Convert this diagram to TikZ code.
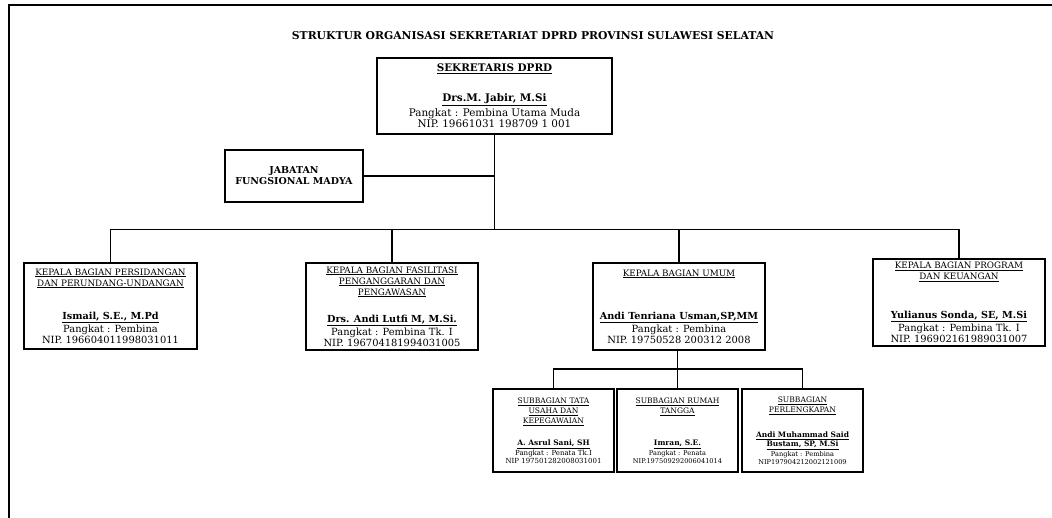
\documentclass[tikz,border=0pt]{standalone}
\usepackage{fontspec}
\setmainfont{DejaVu Serif}
\usetikzlibrary{positioning}

\newcommand{\kop}[1]{{\fontsize{8.8}{10}\selectfont\underline{#1}}}
\newcommand{\nama}[1]{{\fontsize{9.7}{10}\selectfont\textbf{\underline{#1}}}}
\newcommand{\subkop}[1]{{\fontsize{7.6}{8}\selectfont\underline{#1}}}
\newcommand{\subnama}[1]{{\fontsize{7.5}{8}\selectfont\textbf{\underline{#1}}}}

\begin{document}
\begin{tikzpicture}[
    x = 1pt, y = -1pt,
    every node/.style = {align = center, inner sep = 0pt},
    unit/.style = {
        draw, line width = 1.3pt,
        minimum width = 172pt, minimum height = 87pt,
        font = \fontsize{9.9}{11}\selectfont
    },
    subunit/.style = {
        draw, line width = 1.2pt,
        minimum width = 121pt, minimum height = 83pt,
        font = \fontsize{6.6}{8}\selectfont
    },
    link/.style = {line width = 1.3pt}
]

\useasboundingbox (0,0) rectangle (1052,518);
\draw[line width = 2.2pt] (9,518) -- (9,5) -- (1052,5);

\node[font = \bfseries\fontsize{10.8}{13}\selectfont] (title) at (533,36)
    {STRUKTUR ORGANISASI SEKRETARIAT DPRD PROVINSI SULAWESI SELATAN};

\node[unit, minimum width = 235pt, minimum height = 76pt,
      font = \fontsize{10.4}{11.3}\selectfont] (sekr) at (494.5,96)
    {\textbf{\underline{SEKRETARIS DPRD}}\\[18pt]
     \textbf{\underline{Drs.M. Jabir, M.Si}}\\[2pt]
     Pangkat : Pembina Utama Muda\\
     NIP. 19661031 198709 1 001};

\node[draw, line width = 1.3pt, minimum width = 138pt, minimum height = 52pt,
      font = \bfseries\fontsize{9.5}{11}\selectfont] (jab) at (294,176)
    {JABATAN\\ FUNGSIONAL MADYA};

% kepala bagian
\node[unit, minimum width = 173pt, minimum height = 86pt] (persid) at (110.5,306)
    {\kop{KEPALA BAGIAN PERSIDANGAN}\\
     \kop{DAN PERUNDANG-UNDANGAN}\\[22pt]
     \nama{Ismail, S.E., M.Pd}\\[1pt]
     Pangkat : Pembina\\
     NIP. 196604011998031011};

\node[unit] (fasil) at (392,306.5)
    {\kop{KEPALA BAGIAN FASILITASI}\\
     \kop{PENGANGGARAN DAN}\\
     \kop{PENGAWASAN}\\[16pt]
     \nama{Drs. Andi Lutfi M, M.Si.}\\[1pt]
     Pangkat : Pembina Tk. I\\
     NIP. 196704181994031005};

\node[unit] (umum) at (679,306.5)
    {\kop{KEPALA BAGIAN UMUM}\\[32pt]
     \nama{Andi Tenriana Usman,SP,MM}\\[1pt]
     Pangkat : Pembina\\
     NIP. 19750528 200312 2008};

\node[unit] (program) at (959,302.5)
    {\kop{KEPALA BAGIAN PROGRAM}\\
     \kop{DAN KEUANGAN}\\[28pt]
     \nama{Yulianus Sonda, SE, M.Si}\\[1pt]
     Pangkat : Pembina Tk. I\\
     NIP. 196902161989031007};

% subbagian
\node[subunit, font = \fontsize{7}{8}\selectfont] (tu) at (553.5,430.5)
    {\subkop{SUBBAGIAN TATA}\\[2pt]
     \subkop{USAHA DAN}\\[2pt]
     \subkop{KEPEGAWAIAN}\\[14pt]
     \subnama{A. Asrul Sani, SH}\\[0.5pt]
     Pangkat : Penata Tk.I\\
     NIP 197501282008031001};

\node[subunit] (rt) at (677.5,430.5)
    {\subkop{SUBBAGIAN RUMAH}\\[2pt]
     \subkop{TANGGA}\\[24pt]
     \subnama{Imran, S.E.}\\[0.5pt]
     Pangkat : Penata\\
     NIP.197509292006041014};

\node[subunit] (lengkap) at (802.5,430.5)
    {\subkop{SUBBAGIAN}\\[2pt]
     \subkop{PERLENGKAPAN}\\[17pt]
     \subnama{Andi Muhammad Said}\\[1pt]
     \subnama{Bustam, SP, M.Si}\\[0.5pt]
     Pangkat : Pembina\\
     NIP197904212002121009};

% garis
\draw[link] (sekr.south) -- ++(0,95) coordinate (hub);
\draw[link] (jab.east) -- (jab.east -| sekr.south);
\draw[link] (persid.north) |- (hub) -| (program.north);
\draw[link] (fasil.north) -- (fasil.north |- hub);
\draw[link] (umum.north) -- (umum.north |- hub);

\coordinate (subhub) at (678,369);
\draw[link] (umum.south -| rt.north) -- (rt.north);
\draw[link] (tu.north) |- (subhub) -| (lengkap.north);

\end{tikzpicture}
\end{document}
